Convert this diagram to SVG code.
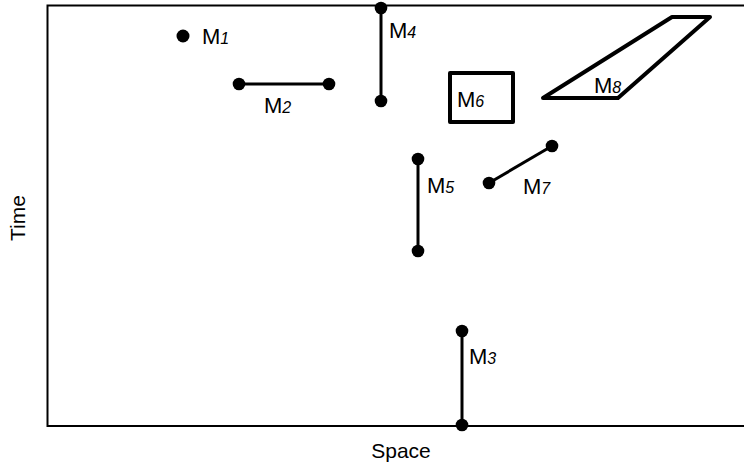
<svg xmlns="http://www.w3.org/2000/svg" width="744" height="465" viewBox="0 0 744 465">
<style>
.ax{stroke:#000;stroke-width:2;fill:none}
.seg{stroke:#000;stroke-width:3;fill:none;stroke-linejoin:round}
.shape{stroke:#000;stroke-width:4;fill:none;stroke-linejoin:round}
.dot{fill:#000}
.lbl{font-family:"Liberation Sans",Arial,sans-serif;font-size:22px;fill:#000}
.sub{font-style:italic;font-size:16px}
.axl{font-family:"Liberation Sans",Arial,sans-serif;font-size:21px;fill:#000}
</style>
<rect width="744" height="465" fill="#fff"/>
<g id="axes">
<polyline class="ax" points="744,5.5 47.5,5.5 47.5,426 744,426"/>
<text class="axl" x="401" y="458" text-anchor="middle">Space</text>
<text class="axl" transform="translate(25,218) rotate(-90)" text-anchor="middle">Time</text>
</g>
<g id="connectors">
<line class="seg" x1="239" y1="84" x2="329" y2="84"/>
<line class="seg" x1="381" y1="8" x2="381" y2="101"/>
<line class="seg" x1="418" y1="159" x2="418" y2="251"/>
<line class="seg" x1="489" y1="183" x2="552" y2="146"/>
<line class="seg" x1="462" y1="331" x2="462" y2="425"/>
</g>
<g id="M1"><circle class="dot" cx="183" cy="36" r="6.5"/><text class="lbl" x="202" y="44">M<tspan class="sub">1</tspan></text></g>
<g id="M2"><circle class="dot" cx="239" cy="84" r="6.3"/><circle class="dot" cx="329" cy="84" r="6.3"/><text class="lbl" x="264" y="113">M<tspan class="sub">2</tspan></text></g>
<g id="M4"><circle class="dot" cx="381" cy="8" r="6.3"/><circle class="dot" cx="381" cy="101" r="6.3"/><text class="lbl" x="389" y="38">M<tspan class="sub">4</tspan></text></g>
<g id="M6"><rect class="shape" x="450" y="73" width="63" height="49"/><text class="lbl" x="457" y="107">M<tspan class="sub">6</tspan></text></g>
<g id="M8"><polygon class="shape" points="543,98 672,17 710,17 618,98"/><text class="lbl" x="594" y="93">M<tspan class="sub">8</tspan></text></g>
<g id="M5"><circle class="dot" cx="418" cy="159" r="6.3"/><circle class="dot" cx="418" cy="251" r="6.3"/><text class="lbl" x="427" y="193">M<tspan class="sub">5</tspan></text></g>
<g id="M7"><circle class="dot" cx="489" cy="183" r="6.3"/><circle class="dot" cx="552" cy="146" r="6.3"/><text class="lbl" x="523" y="194">M<tspan class="sub">7</tspan></text></g>
<g id="M3"><circle class="dot" cx="462" cy="331" r="6.3"/><circle class="dot" cx="462" cy="425" r="6.3"/><text class="lbl" x="469" y="364">M<tspan class="sub">3</tspan></text></g>
</svg>
